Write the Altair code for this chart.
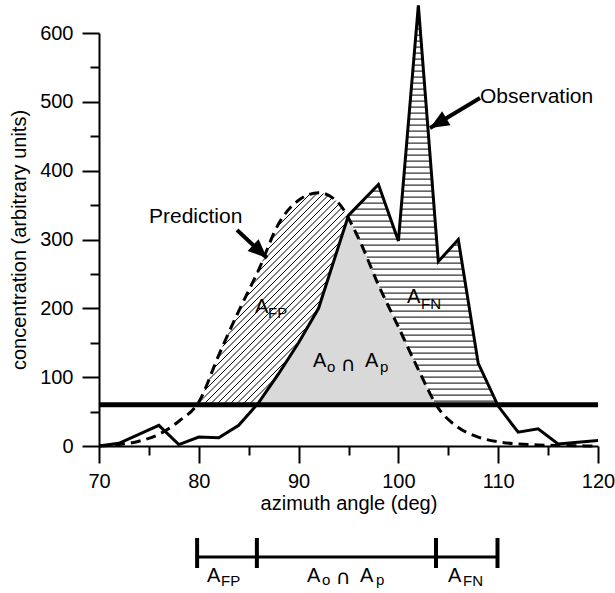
import numpy as np
import pandas as pd
import altair as alt

# ---------------- data ----------------
obs_x = [70, 72, 76, 78, 80, 82, 84, 86, 88, 90, 92, 95, 98, 100, 102, 104, 106, 108, 110, 112, 114, 116, 120]
obs_y = [0, 4, 30, 2, 13, 12, 30, 63, 105, 150, 200, 335, 380, 298, 640, 268, 300, 120, 58, 20, 25, 3, 8]

pred_x = [70, 72, 74, 76, 78, 80, 82, 84, 86, 88, 90, 92, 94, 96, 98, 100, 102, 104, 106, 108, 110, 112, 114, 116, 118, 120]
pred_y = [0, 2, 7, 17, 36, 64, 132, 196, 256, 323, 357, 368, 353, 302, 234, 173, 111, 55, 27, 13, 6, 3, 1.5, 0.8, 0.3, 0]

threshold = 60
x_major = [70, 80, 90, 100, 110, 120]
x_minor = [75, 85, 95, 105, 115]
y_major = [0, 100, 200, 300, 400, 500, 600]
y_minor = [50, 150, 250, 350, 450, 550]

# ---------------- layout ----------------
LEFT, TOP, W, H = 99, 33, 499, 413
XMIN, XMAX, YMIN, YMAX = 70, 120, 0, 600
PX = W / (XMAX - XMIN)
PY = H / (YMAX - YMIN)
F = "Liberation Sans"

xscale = alt.Scale(domain=[XMIN, XMAX], nice=False, zero=False)
yscale = alt.Scale(domain=[YMIN, YMAX], nice=False, zero=False)


def monotone(xp, yp, xs):
    """d3 curveMonotoneX evaluated on xs (same curve Vega draws)."""
    xp = np.asarray(xp, float)
    yp = np.asarray(yp, float)
    n = len(xp)
    h = np.diff(xp)
    s = np.diff(yp) / h
    t = np.zeros(n)
    for i in range(1, n - 1):
        h0, h1, s0, s1 = h[i - 1], h[i], s[i - 1], s[i]
        p = (s0 * h1 + s1 * h0) / (h0 + h1)
        t[i] = (np.sign(s0) + np.sign(s1)) * min(abs(s0), abs(s1), 0.5 * abs(p))
    t[0] = (3 * s[0] - t[1]) / 2
    t[-1] = (3 * s[-1] - t[-2]) / 2
    idx = np.clip(np.searchsorted(xp, xs, side="right") - 1, 0, n - 2)
    hh = h[idx]
    u = (xs - xp[idx]) / hh
    h00 = 2 * u**3 - 3 * u**2 + 1
    h10 = u**3 - 2 * u**2 + u
    h01 = -2 * u**3 + 3 * u**2
    h11 = u**3 - u**2
    return h00 * yp[idx] + h10 * hh * t[idx] + h01 * yp[idx + 1] + h11 * hh * t[idx + 1]


def runs(mask):
    m = np.concatenate([[0], mask.astype(int), [0]])
    d = np.diff(m)
    return list(zip(np.where(d == 1)[0], np.where(d == -1)[0] - 1))


grid = np.arange(XMIN, XMAX + 1e-9, 0.01)
o = np.interp(grid, obs_x, obs_y)
p = monotone(pred_x, pred_y, grid)

# threshold crossings
above_p = np.where(p >= threshold)[0]
above_o = np.where(o >= threshold)[0]
pred_left, pred_right = grid[above_p[0]], grid[above_p[-1]]
obs_left, obs_right = grid[above_o[0]], grid[above_o[-1]]
cross = pd.DataFrame({"x": [pred_left, obs_left, pred_right, obs_right]})

# gray intersection area
mn = np.minimum(o, p)
m = mn > threshold
gx = grid[m][::4]
gy = mn[m][::4]
gray = pd.DataFrame({
    "x": np.concatenate([[obs_left], gx, [pred_right]]),
    "hi": np.concatenate([[threshold], gy, [threshold]]),
})
gray["lo"] = threshold

# diagonal hatch (false positive): between max(obs, thr) and pred
lower_fp = np.maximum(o, threshold)
upper_fp = p
gxp = (grid - XMIN) * PX
segs = []
for c in np.arange(-700, 500, 6.5):
    v = (gxp + c) / PY
    mk = (v > lower_fp) & (v < upper_fp)
    for a, b in runs(mk):
        if b > a:
            segs.append((grid[a], v[a], grid[b], v[b]))
diag = pd.DataFrame(segs, columns=["x", "y", "x2", "y2"])

# horizontal hatch (false negative): between max(pred, thr) and obs
lower_fn = np.maximum(p, threshold)
upper_fn = o
segs = []
step = 6.0 / PY
for v in np.arange(threshold + step * 0.6, max(obs_y), step):
    mk = (v > lower_fn) & (v < upper_fn)
    for a, b in runs(mk):
        if b > a:
            segs.append((grid[a], v, grid[b], v))
horiz = pd.DataFrame(segs, columns=["x", "y", "x2", "y2"])

obs_df = pd.DataFrame({"x": obs_x, "y": obs_y})
pred_df = pd.DataFrame({"x": pred_x, "y": pred_y})
thr_df = pd.DataFrame({"x": [XMIN], "x2": [XMAX], "y": [threshold]})
br_df = pd.DataFrame({"x": [cross["x"].min()], "x2": [cross["x"].max()]})


def X(f, **kw):
    return alt.X(f, type="quantitative", scale=xscale, axis=None, **kw)


def Y(f, **kw):
    return alt.Y(f, type="quantitative", scale=yscale, axis=None, **kw)


EMPTY = alt.Data(values=[{}])

gray_l = alt.Chart(gray).mark_area(color="#d9d9d9", opacity=1).encode(
    x=X("x"), y=Y("lo"), y2="hi")
diag_l = alt.Chart(diag).mark_rule(color="black", strokeWidth=1).encode(
    x=X("x"), y=Y("y"), x2="x2", y2="y2")
horiz_l = alt.Chart(horiz).mark_rule(color="black", strokeWidth=1).encode(
    x=X("x"), y=Y("y"), x2="x2", y2="y2")

axis_common = dict(grid=False, tickColor="black", tickWidth=2, domainColor="black",
                   domainWidth=2, labelColor="black", labelFont=F, labelFontSize=20,
                   titleFont=F, titleFontSize=20, titleFontWeight="normal",
                   titleColor="black", labelFlush=False, labelOverlap=False)

thr_l = alt.Chart(thr_df).mark_rule(color="black", strokeWidth=5).encode(
    x=alt.X("x", type="quantitative", scale=xscale,
            axis=alt.Axis(values=x_minor, tickSize=9, tickWidth=2, tickColor="black",
                          labels=False, domain=False, grid=False, orient="bottom"),
            title=None),
    x2="x2",
    y=alt.Y("y", type="quantitative", scale=yscale,
            axis=alt.Axis(values=y_minor, tickSize=9, tickWidth=2, tickColor="black",
                          labels=False, domain=False, grid=False, orient="left"),
            title=None),
)

pred_l = alt.Chart(pred_df).mark_line(color="black", strokeWidth=3, strokeDash=[10, 6],
                                      interpolate="monotone").encode(x=X("x"), y=Y("y"))

obs_l = alt.Chart(obs_df).mark_line(color="black", strokeWidth=3, strokeJoin="miter").encode(
    x=alt.X("x", type="quantitative", scale=xscale,
            axis=alt.Axis(values=x_major, tickSize=17, labelPadding=8, titlePadding=2,
                          orient="bottom", **axis_common),
            title="azimuth angle (deg)"),
    y=alt.Y("y", type="quantitative", scale=yscale,
            axis=alt.Axis(values=y_major, tickSize=17, labelPadding=9, titlePadding=10,
                          orient="left", **axis_common),
            title="concentration (arbitrary units)"),
)

# bracket below the axis
br_ticks = alt.Chart(cross).mark_rule(color="black", strokeWidth=4).encode(
    x=X("x"), y=alt.value(538 - TOP), y2=alt.value(568 - TOP))
br_line = alt.Chart(br_df).mark_rule(color="black", strokeWidth=3).encode(
    x=X("x"), x2="x2", y=alt.value(557 - TOP))


def label(s, x, y, size, font=F):
    return alt.Chart(EMPTY).mark_text(text=s, font=font, fontSize=size, align="left",
                                      baseline="alphabetic", color="black").encode(
        x=alt.value(x - LEFT), y=alt.value(y - TOP))


def arrow(x0, y0, x1, y1, length=19):
    ang = float(np.degrees(np.arctan2(x1 - x0, -(y1 - y0)))) % 360
    shaft = alt.Chart(EMPTY).mark_rule(color="black", strokeWidth=4).encode(
        x=alt.value(x0 - LEFT), y=alt.value(y0 - TOP),
        x2=alt.value(x1 - LEFT), y2=alt.value(y1 - TOP))
    head = alt.Chart(EMPTY).mark_point(shape="M0,0L-0.85,2L0.85,2Z", size=length**2, angle=ang,
                                       filled=True, color="black", opacity=1,
                                       strokeWidth=0).encode(
        x=alt.value(x1 - LEFT), y=alt.value(y1 - TOP))
    return [shaft, head]


CAP = "DejaVu Sans"
texts = [
    label("Prediction", 149, 223, 21),
    label("Observation", 480, 103, 21),
    # A_FP in plot
    label("A", 255, 313, 20), label("FP", 268, 318, 15),
    # A_FN in plot
    label("A", 407, 303, 20), label("FN", 421, 309, 15),
    # Ao ∩ Ap in plot
    label("A", 313, 367, 20), label("o", 327, 372, 15), label("∩", 341, 371, 20, CAP),
    label("A", 365, 367, 20), label("p", 380, 372, 15),
    # bracket labels
    label("A", 207, 582, 20), label("FP", 221, 586, 15),
    label("A", 307, 582, 20), label("o", 322, 585, 15), label("∩", 336, 584, 20, CAP),
    label("A", 360, 582, 20), label("p", 376, 585, 15),
    label("A", 448, 582, 20), label("FN", 463, 586, 15),
]

arrows = arrow(237, 230, 267, 258) + arrow(480, 98, 430, 128)

chart = alt.layer(
    gray_l, diag_l, horiz_l, thr_l, pred_l, obs_l, br_ticks, br_line, *arrows, *texts
).resolve_scale(x="shared", y="shared").resolve_axis(
    x="independent", y="independent"
).properties(
    width=W, height=H,
    padding={"left": LEFT, "top": TOP, "right": 615 - LEFT - W, "bottom": 593 - TOP - H},
    autosize=alt.AutoSizeParams(type="none"),
).configure_view(stroke=None)

chart.save("out.html", embed_options={"renderer": "svg", "actions": False})
